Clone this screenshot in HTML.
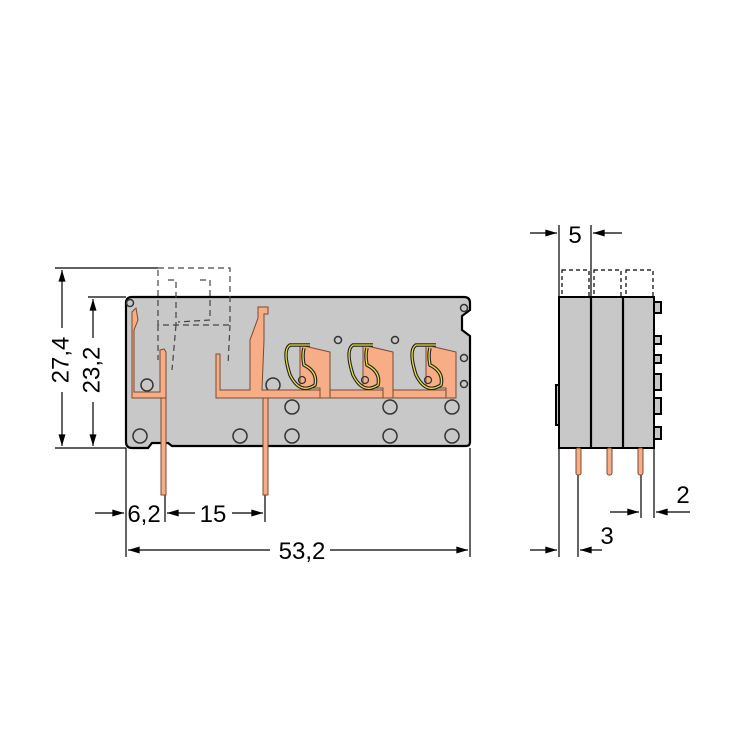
<!DOCTYPE html>
<html><head><meta charset="utf-8"><style>
html,body{margin:0;padding:0;background:#fff;width:750px;height:750px;overflow:hidden}
text{font-family:"Liberation Sans",sans-serif;font-size:24px;fill:#000}
</style></head><body>
<svg width="750" height="750" viewBox="0 0 750 750" xmlns="http://www.w3.org/2000/svg">
<defs>
<marker id="a" viewBox="0 0 10 6" refX="10" refY="3" markerWidth="14" markerHeight="7" markerUnits="userSpaceOnUse" orient="auto"><path d="M0,0L10,3L0,6z" fill="#000"/></marker>
</defs>
<g stroke="#000" stroke-width="1.2" fill="none">
<line x1="55" y1="268" x2="158" y2="268"/>
<line x1="88" y1="297" x2="126" y2="297"/>
<line x1="55" y1="448" x2="126" y2="448"/>
<line x1="62" y1="328" x2="62" y2="270" marker-end="url(#a)"/>
<line x1="62" y1="392" x2="62" y2="446" marker-end="url(#a)"/>
<line x1="93" y1="338" x2="93" y2="299" marker-end="url(#a)"/>
<line x1="93" y1="402" x2="93" y2="446" marker-end="url(#a)"/>
<line x1="126" y1="448" x2="126" y2="557"/>
<line x1="470" y1="448" x2="470" y2="557"/>
<line x1="165" y1="490" x2="165" y2="522"/>
<line x1="265" y1="480" x2="265" y2="522"/>
<line x1="95" y1="513" x2="124" y2="513" marker-end="url(#a)"/>
<line x1="195" y1="513" x2="167" y2="513" marker-end="url(#a)"/>
<line x1="232" y1="513" x2="263" y2="513" marker-end="url(#a)"/>
<line x1="270" y1="550" x2="128" y2="550" marker-end="url(#a)"/>
<line x1="330" y1="550" x2="468" y2="550" marker-end="url(#a)"/>
<line x1="559" y1="225" x2="559" y2="557"/>
<line x1="591" y1="225" x2="591" y2="297"/>
<line x1="530" y1="233" x2="557" y2="233" marker-end="url(#a)"/>
<line x1="622" y1="233" x2="593" y2="233" marker-end="url(#a)"/>
<line x1="578" y1="475" x2="578" y2="557"/>
<line x1="530" y1="550" x2="557" y2="550" marker-end="url(#a)"/>
<line x1="602" y1="550" x2="580" y2="550" marker-end="url(#a)"/>
<line x1="641" y1="475" x2="641" y2="518"/>
<line x1="654" y1="448" x2="654" y2="518"/>
<line x1="610" y1="512" x2="639" y2="512" marker-end="url(#a)"/>
<line x1="690" y1="512" x2="656" y2="512" marker-end="url(#a)"/>
</g>
<text x="62" y="360" transform="rotate(-90 62 360)" text-anchor="middle" dominant-baseline="middle">27,4</text>
<text x="93" y="370" transform="rotate(-90 93 370)" text-anchor="middle" dominant-baseline="middle">23,2</text>
<text x="144" y="522" text-anchor="middle">6,2</text>
<text x="213" y="522" text-anchor="middle">15</text>
<text x="302" y="559" text-anchor="middle">53,2</text>
<text x="575" y="243" text-anchor="middle">5</text>
<text x="607" y="544" text-anchor="middle">3</text>
<text x="683" y="503" text-anchor="middle">2</text>

<path d="M132,297 L464,297 Q470,297 470,303 L470,310 L462,316 L462,330 L470,336 L470,442 Q470,446 466,446 L172,446 L168,443 L152,443 L148,448 L132,448 Q126,448 126,442 L126,303 Q126,297 132,297 Z" fill="#c8c8c8" stroke="#000" stroke-width="2.2"/>
<g fill="none" stroke="#333" stroke-width="1.5">
<circle cx="140" cy="436" r="7"/><circle cx="240" cy="436" r="7"/><circle cx="292" cy="436" r="7"/><circle cx="390" cy="436" r="7"/><circle cx="452" cy="436" r="7"/>
<circle cx="292" cy="407" r="7"/><circle cx="390" cy="407" r="7"/><circle cx="452" cy="407" r="7"/>
<circle cx="147" cy="385" r="6"/><circle cx="273" cy="385" r="7"/>
<circle cx="338" cy="340" r="3.5"/><circle cx="395" cy="340" r="3.5"/>
<circle cx="130" cy="303" r="3.5"/><circle cx="464" cy="308" r="3.5"/><circle cx="464" cy="358" r="3.5"/><circle cx="464" cy="384" r="3.5"/>
</g>
<g fill="#f7ad86" stroke="#7a4a30" stroke-width="1">
<path d="M132,312 L136,308 L138,320 L134,330 L134,392 L160,392 L160,350 L164,349 L166,352 L166,398 L132,398 Z"/>
<path d="M216,354 L220,354 L220,390 L250,390 L250,340 L258,318 L258,307 L268,307 L268,314 L264,314 L264,340 L262,390 L456,390 L456,398 L216,398 Z"/>
<rect x="161" y="398" width="5" height="97"/>
<rect x="263" y="398" width="5" height="97"/>
<path d="M300,345 L330,352 L330,398 L320,398 L320,388 L300,388 Z"/>
<path d="M363,345 L393,352 L393,398 L383,398 L383,388 L363,388 Z"/>
<path d="M426,345 L456,352 L456,398 L446,398 L446,388 L426,388 Z"/>
</g>
<g fill="none" stroke="#333" stroke-width="1.2">
<circle cx="302" cy="380" r="3.5"/><circle cx="365" cy="380" r="3.5"/><circle cx="428" cy="380" r="3.5"/>
</g>
<g fill="none" stroke="#222" stroke-width="3.5">
<path d="M310,345 L290,345 Q282,350 290,375 Q300,395 315,385 Q318,372 304,365 Q302,355 304,348"/>
<path d="M373,345 L353,345 Q345,350 353,375 Q363,395 378,385 Q381,372 367,365 Q365,355 367,348"/>
<path d="M436,345 L416,345 Q408,350 416,375 Q426,395 441,385 Q444,372 430,365 Q428,355 430,348"/>
</g>
<g fill="none" stroke="#e8e040" stroke-width="1.3">
<path d="M310,345 L290,345 Q282,350 290,375 Q300,395 315,385 Q318,372 304,365 Q302,355 304,348"/>
<path d="M373,345 L353,345 Q345,350 353,375 Q363,395 378,385 Q381,372 367,365 Q365,355 367,348"/>
<path d="M436,345 L416,345 Q408,350 416,375 Q426,395 441,385 Q444,372 430,365 Q428,355 430,348"/>
</g>
<g fill="none" stroke="#444" stroke-width="1.2" stroke-dasharray="6,4">
<path d="M158,268 L230,268 L230,325 L158,325 Z"/>
<path d="M168,280 L176,280 L176,325 M200,280 L210,280 L210,320 L178,322"/>
<line x1="158" y1="325" x2="158" y2="360"/>
<line x1="230" y1="325" x2="228" y2="365"/>
<line x1="176" y1="325" x2="172" y2="370"/>
</g>

<g stroke="#000" stroke-width="1.2" fill="none" stroke-dasharray="4,3">
<rect x="562" y="270" width="27" height="27"/><rect x="594" y="270" width="27" height="27"/><rect x="626" y="270" width="27" height="27"/>
</g>
<g fill="#c8c8c8" stroke="#000" stroke-width="2">
<rect x="556" y="385" width="4" height="40"/>
<rect x="654" y="302" width="7" height="11"/><rect x="654" y="336" width="7" height="8"/><rect x="654" y="355" width="7" height="8"/><rect x="654" y="374" width="7" height="16"/><rect x="654" y="398" width="7" height="16"/><rect x="654" y="427" width="7" height="12"/>
<rect x="559" y="297" width="95" height="151"/>
</g>
<g stroke="#000" stroke-width="2.2"><line x1="591" y1="297" x2="591" y2="448"/><line x1="623" y1="297" x2="623" y2="448"/></g>
<g fill="#f7ad86" stroke="#7a4a30" stroke-width="1">
<rect x="576" y="448" width="5" height="27" rx="2"/><rect x="607" y="448" width="5" height="27" rx="2"/><rect x="638" y="448" width="5" height="27" rx="2"/>
</g>
</svg>
</body></html>
